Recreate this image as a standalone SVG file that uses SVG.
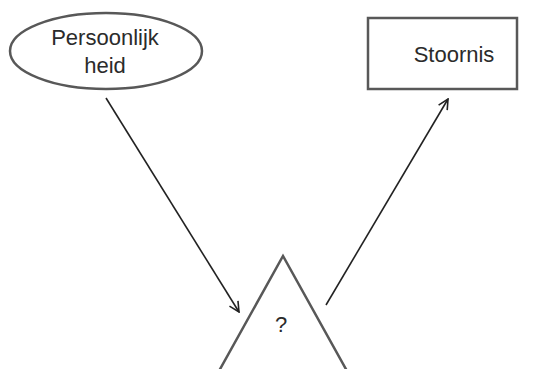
<svg xmlns="http://www.w3.org/2000/svg" width="534" height="369" viewBox="0 0 534 369">
<style>
.shape{fill:#fff;stroke:#585858;stroke-width:2.5}
.lbl{font-family:"Liberation Sans",Arial,sans-serif;font-size:22px;fill:#2b2b2b;text-anchor:middle}
.conn{stroke:#222;stroke-width:1.6;fill:none;marker-end:url(#arr)}
</style>
<defs>
<marker id="arr" viewBox="0 0 12 12" refX="11" refY="6" markerWidth="12" markerHeight="12" markerUnits="userSpaceOnUse" orient="auto">
<path d="M1,1 L11,6 L1,11" fill="none" stroke="#222" stroke-width="1.6"/>
</marker>
</defs>
<rect width="534" height="369" fill="#fff"/>
<g id="persoonlijkheid">
<ellipse class="shape" cx="106" cy="51" rx="96" ry="38"/>
<text class="lbl" x="105" y="45">Persoonlijk</text>
<text class="lbl" x="105" y="73">heid</text>
</g>
<g id="stoornis">
<rect class="shape" x="368" y="18" width="149" height="71"/>
<text class="lbl" x="454" y="62">Stoornis</text>
</g>
<g id="vraag">
<polyline class="shape" points="219,371 283,256 347,371" fill="none"/>
<text class="lbl" x="281" y="332">?</text>
</g>
<g id="connectors">
<line class="conn" x1="106" y1="98" x2="239" y2="312"/>
<line class="conn" x1="326" y1="305" x2="448" y2="99"/>
</g>
</svg>
